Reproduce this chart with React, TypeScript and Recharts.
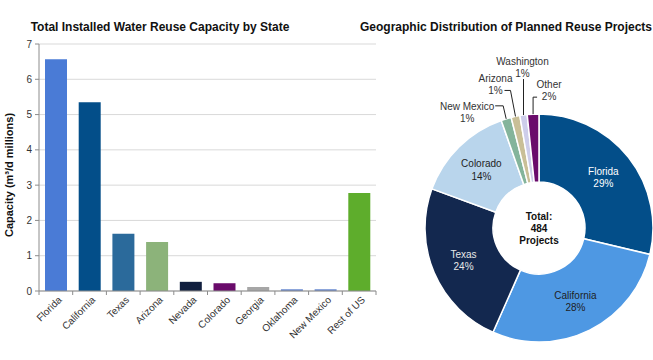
import React from 'react';
import { BarChart, Bar, XAxis, YAxis, CartesianGrid, Cell, PieChart, Pie } from 'recharts';

// ---------- Data ----------
const states = ['Florida', 'California', 'Texas', 'Arizona', 'Nevada', 'Colorado', 'Georgia', 'Oklahoma', 'New Mexico', 'Rest of US'];
const capacity = [6.57, 5.35, 1.62, 1.39, 0.26, 0.22, 0.11, 0.05, 0.05, 2.78];
const yTicks = [0, 1, 2, 3, 4, 5, 6, 7];

const regions = ['Florida', 'California', 'Texas', 'Colorado', 'New Mexico', 'Arizona', 'Washington', 'Other'];
const projects = [139, 135, 116, 68, 7, 6, 5, 8];
const totalProjects = 484;

// ---------- Styles ----------
const barColors = ['#4a7bd6', '#034e89', '#2b6a9b', '#8cb37a', '#111f3e', '#6a0b6b', '#a6a6a6', '#6a8ad0', '#6a8ad0', '#5ead2c'];
const pieColors = ['#034e89', '#4e98e3', '#13284f', '#b9d5ec', '#84b49b', '#c9bf97', '#cdcdea', '#6a0b6b'];
const pieInk = ['#ffffff', '#1e1e1e', '#e8e8e8', '#1e1e1e'];
const FONT = '"Liberation Sans", Arial, sans-serif';

const barData = states.map((s, i) => ({ state: s, value: capacity[i] }));
const pieData = regions.map((r, i) => ({ name: r, value: projects[i] }));

const PLOT_LEFT = 39;
const PLOT_RIGHT = 376;
const BAND = (PLOT_RIGHT - PLOT_LEFT) / states.length;

const PIE_LEFT = 380;
const PIE_CX = 159;
const PIE_CY = 228;

const XTick = (props: any) => {
  const { x, y, payload, index } = props;
  return (
    <g>
      <line x1={x - BAND / 2} x2={x - BAND / 2} y1={y} y2={y + 4} stroke="#8c8c8c" />
      {index === states.length - 1 && (
        <line x1={x + BAND / 2} x2={x + BAND / 2} y1={y} y2={y + 4} stroke="#8c8c8c" />
      )}
      <text
        transform={`translate(${x + 4},${y + 7}) rotate(-45)`}
        textAnchor="end"
        dy="0.35em"
        fontSize={10}
        fontFamily={FONT}
        fill="#333"
      >
        {payload.value}
      </text>
    </g>
  );
};

// call-out layout for the thin slices (relative to the slice's outer edge point)
const callouts: Record<string, { pts: number[][]; text: number[] }> = {
  'New Mexico': { pts: [[-3, -13], [-11, -13]], text: [-39, -9] },
  Arizona: { pts: [[-5, -26], [-11, -26]], text: [-20, -34.5] },
  Washington: { pts: [[0, -36]], text: [-1, -50] },
  Other: { pts: [[0, -17], [4, -17]], text: [16, -26] },
};

const RAD = Math.PI / 180;
const renderPieLabel = (props: any) => {
  const { cx, cy, midAngle, outerRadius, innerRadius, percent, name, index } = props;
  const pct = `${Math.round(percent * 100)}%`;
  const c = callouts[name];
  if (!c) {
    const r = (innerRadius + outerRadius) / 2 + 2;
    const x = cx + r * Math.cos(-midAngle * RAD);
    const y = cy + r * Math.sin(-midAngle * RAD);
    return (
      <text x={x} y={y} textAnchor="middle" fontSize={10} fontFamily={FONT} fill={pieInk[index]}>
        <tspan x={x} dy="-0.25em">{name}</tspan>
        <tspan x={x} dy="1.25em">{pct}</tspan>
      </text>
    );
  }
  const ex = cx + outerRadius * Math.cos(-midAngle * RAD);
  const ey = cy + outerRadius * Math.sin(-midAngle * RAD);
  const points = [[ex, ey], ...c.pts.map(([dx, dy]) => [ex + dx, ey + dy])].map((p) => p.join(',')).join(' ');
  const tx = ex + c.text[0];
  const ty = ey + c.text[1];
  return (
    <g>
      <polyline points={points} fill="none" stroke="#222" strokeWidth={1} />
      <text x={tx} y={ty} textAnchor="middle" fontSize={10} fontFamily={FONT} fill="#333">
        <tspan x={tx} dy="0">{name}</tspan>
        <tspan x={tx} dy="1.2em">{pct}</tspan>
      </text>
    </g>
  );
};

export default function App() {
  return (
    <div style={{ position: 'absolute', left: 0, top: 0, width: 653, height: 360, background: '#fff', fontFamily: FONT }}>
      <svg width={653} height={40} style={{ position: 'absolute', left: 0, top: 0 }}>
        <text x={160} y={31} textAnchor="middle" fontSize={12} fontWeight="bold" fontFamily={FONT} fill="#111">
          Total Installed Water Reuse Capacity by State
        </text>
        <text x={506} y={31} textAnchor="middle" fontSize={12} fontWeight="bold" fontFamily={FONT} fill="#111">
          Geographic Distribution of Planned Reuse Projects
        </text>
      </svg>
      <div style={{ position: 'absolute', left: 0, top: 0 }}>
        <BarChart width={380} height={360} data={barData} margin={{ top: 44, right: 4, bottom: 0, left: 0 }} barSize={22}>
          <CartesianGrid vertical={false} stroke="#d9d9d9" />
          <XAxis
            dataKey="state"
            interval={0}
            tickSize={0}
            tickMargin={0}
            tickLine={false}
            axisLine={{ stroke: '#8c8c8c' }}
            tick={<XTick />}
            height={69}
          />
          <YAxis
            domain={[0, 7]}
            ticks={yTicks}
            width={39}
            tickSize={4}
            tickMargin={3}
            axisLine={{ stroke: '#8c8c8c' }}
            tickLine={{ stroke: '#8c8c8c' }}
            tick={{ fontSize: 10, fill: '#333', fontFamily: FONT }}
          />
          <Bar dataKey="value" isAnimationActive={false}>
            {barData.map((_, i) => (
              <Cell key={i} fill={barColors[i]} />
            ))}
          </Bar>
        </BarChart>
      </div>
      <svg width={30} height={360} style={{ position: 'absolute', left: 0, top: 0 }}>
        <text
          transform="translate(13,175) rotate(-90)"
          textAnchor="middle"
          fontSize={11}
          fontWeight="bold"
          fontFamily={FONT}
          fill="#111"
        >
          Capacity (m³/d millions)
        </text>
      </svg>
      <div style={{ position: 'absolute', left: PIE_LEFT, top: 0 }}>
        <PieChart width={273} height={360} margin={{ top: 0, right: 0, bottom: 0, left: 0 }}>
          <Pie
            data={pieData}
            dataKey="value"
            nameKey="name"
            cx={PIE_CX}
            cy={PIE_CY}
            innerRadius={46}
            outerRadius={114}
            startAngle={90}
            endAngle={-270}
            stroke="#ffffff"
            strokeWidth={1.5}
            label={renderPieLabel}
            labelLine={false}
            isAnimationActive={false}
          >
            {pieData.map((_, i) => (
              <Cell key={i} fill={pieColors[i]} />
            ))}
          </Pie>
        </PieChart>
      </div>
      <svg width={273} height={360} style={{ position: 'absolute', left: PIE_LEFT, top: 0, pointerEvents: 'none' }}>
        <text x={PIE_CX} y={PIE_CY} textAnchor="middle" fontSize={10} fontWeight="bold" fontFamily={FONT} fill="#111">
          <tspan x={PIE_CX} dy="-0.85em">Total:</tspan>
          <tspan x={PIE_CX} dy="1.2em">{totalProjects}</tspan>
          <tspan x={PIE_CX} dy="1.2em">Projects</tspan>
        </text>
      </svg>
    </div>
  );
}
